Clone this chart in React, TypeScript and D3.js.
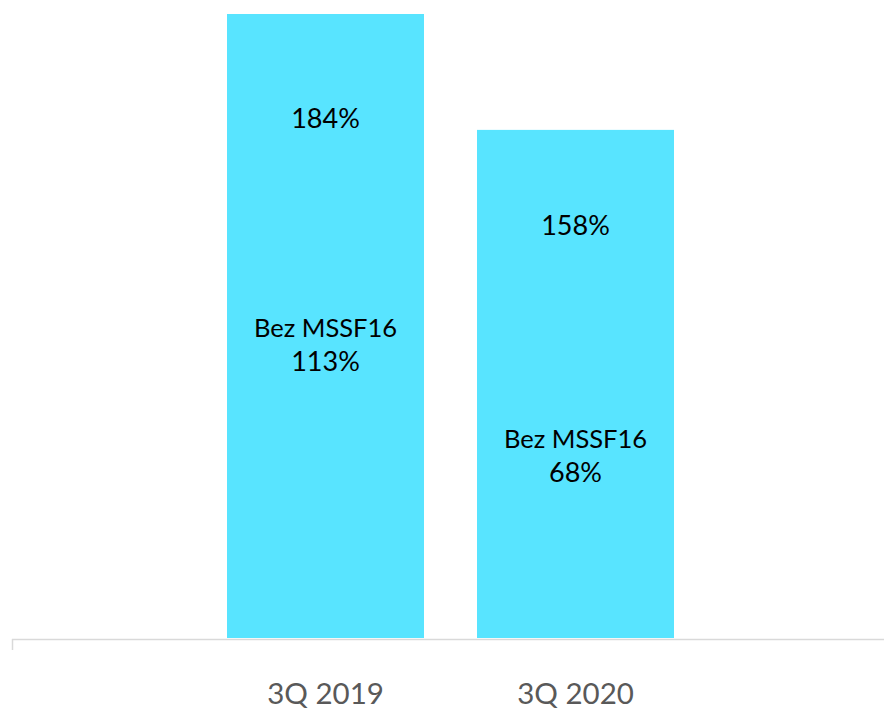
import React from "react";
import * as d3 from "d3";

const categories = ["3Q 2019", "3Q 2020"];
const values = [184, 158];
const subLabel = "Bez MSSF16";
const subValues = [113, 68];

const W = 884;
const H = 714;

export default function App() {
  const x = d3.scaleBand<string>().domain(categories).range([102, 799]).paddingInner(0.212).paddingOuter(0.5);
  const y = d3.scaleLinear().domain([44, 184]).range([638, 14]);
  const font = "Lato, 'Open Sans', sans-serif";
  const base = y.range()[0];
  return (
    <svg width={W} height={H} style={{ position: "absolute", left: 0, top: 0, background: "#fff" }}>
      {categories.map((c, i) => {
        const bx = x(c)!;
        const bw = x.bandwidth();
        const top = y(values[i]);
        const h = base - top;
        const cx = bx + bw / 2;
        const vOff = 65.6 + 0.0776 * h;
        const sOff = 296 + 0.043 * h;
        return (
          <g key={c}>
            <rect x={bx} y={top} width={bw} height={h} fill="#58E4FF" />
            <text x={cx} y={top + vOff} textAnchor="middle" fontFamily={font} fontSize={27} fill="#000">
              {values[i]}%
            </text>
            <text x={cx} y={top + sOff} textAnchor="middle" fontFamily={font} fontSize={25.5} fill="#000">
              {subLabel}
            </text>
            <text x={cx} y={top + sOff + 34} textAnchor="middle" fontFamily={font} fontSize={27} fill="#000">
              {subValues[i]}%
            </text>
            <text x={cx} y={704} textAnchor="middle" fontFamily={font} fontSize={29.5} fill="#595959">
              {c}
            </text>
          </g>
        );
      })}
      <line x1={12} x2={884} y1={639.5} y2={639.5} stroke="#d9d9d9" strokeWidth={1.5} />
      <line x1={12.5} x2={12.5} y1={639} y2={650} stroke="#d9d9d9" strokeWidth={1.5} />
    </svg>
  );
}
